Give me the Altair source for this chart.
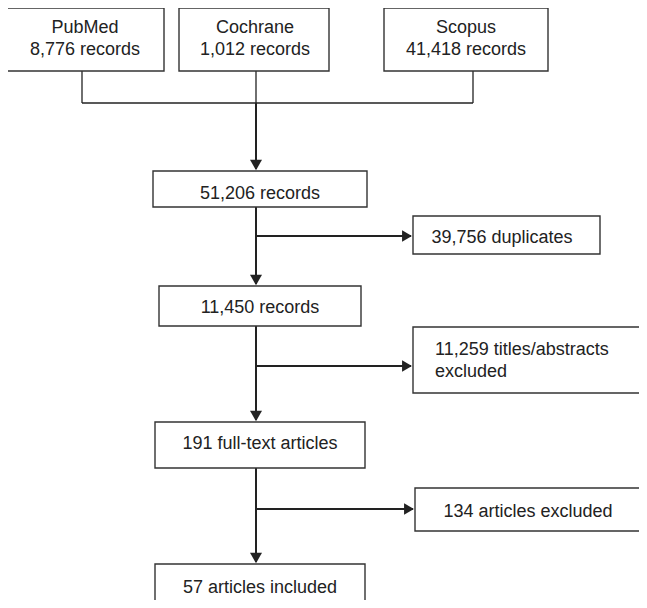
import altair as alt
import pandas as pd

# ---- content ----
sources = ["PubMed", "Cochrane", "Scopus"]
source_records = ["8,776", "1,012", "41,418"]
stage_counts = ["51,206", "11,450", "191", "57"]
stage_labels = ["records", "records", "full-text articles", "articles included"]
excluded_counts = ["39,756", "11,259", "134"]
excluded_labels = ["duplicates", "titles/abstracts\nexcluded", "articles excluded"]

# ---- layout (pixel positions of the flow diagram) ----
src_box_x = [(6, 164), (179, 329), (384, 548)]
src_box_y = (8, 71)
src_join_x = [82, 256, 473]
src_text = [(85, 28), (255, 28), (466, 28)]
stage_box = [(153, 367, 171, 207), (159, 361, 286, 326), (155, 365, 422, 468), (155, 365, 564, 660)]
stage_text = [(260, 194), (260, 308), (260, 444), (260, 588)]
excl_box = [(413, 600, 216, 254), (413, 700, 327, 393), (415, 700, 488, 531)]
excl_text = [(502, 238, "center"), (435, 350, "left"), (528, 512, "center")]
trunk_x = 256
join_y = 103
branch_y = [236, 366, 509]

W, H = 631, 592
X = dict(scale=alt.Scale(domain=[8, 8 + W], nice=False, zero=False), axis=None)
Y = dict(scale=alt.Scale(domain=[8, 8 + H], nice=False, zero=False, reverse=True), axis=None)

boxes = []
for (x0, x1) in src_box_x:
    boxes.append(dict(x=x0, x2=x1, y=src_box_y[0], y2=src_box_y[1]))
for (x0, x1, y0, y1) in stage_box + excl_box:
    boxes.append(dict(x=x0, x2=x1, y=y0, y2=y1))
boxes = pd.DataFrame(boxes)

texts = []
for name, n, (tx, ty) in zip(sources, source_records, src_text):
    texts.append(dict(x=tx, y=ty, t=f"{name}\n{n} records", a="center"))
for n, lab, (tx, ty) in zip(stage_counts, stage_labels, stage_text):
    texts.append(dict(x=tx, y=ty, t=f"{n} {lab}", a="center"))
for n, lab, (tx, ty, al) in zip(excluded_counts, excluded_labels, excl_text):
    texts.append(dict(x=tx, y=ty, t=f"{n} {lab}", a=al))
texts = pd.DataFrame(texts)

# thin connectors from sources
thin = [dict(x=cx, x2=cx, y=src_box_y[1], y2=join_y) for cx in src_join_x]
thin.append(dict(x=src_join_x[0], x2=src_join_x[-1], y=join_y, y2=join_y))
thin = pd.DataFrame(thin)

# thick arrow lines
thick = [dict(x=trunk_x, x2=trunk_x, y=join_y, y2=stage_box[0][2] - 2)]
for i in range(3):
    thick.append(dict(x=trunk_x, x2=trunk_x, y=stage_box[i][3], y2=stage_box[i + 1][2] - 2))
for by, eb in zip(branch_y, excl_box):
    thick.append(dict(x=trunk_x, x2=eb[0] - 2, y=by, y2=by))
thick = pd.DataFrame(thick)

down_heads = pd.DataFrame([dict(x=trunk_x, y=sb[2] - 6) for sb in stage_box])
right_heads = pd.DataFrame([dict(x=eb[0] - 6, y=by) for by, eb in zip(branch_y, excl_box)])

line_color = "#222222"

rects = alt.Chart(boxes).mark_rect(fill="white", stroke="#333333", strokeWidth=1.4, clip=True).encode(
    x=alt.X("x:Q", **X), x2="x2:Q", y=alt.Y("y:Q", **Y), y2="y2:Q")

thin_rules = alt.Chart(thin).mark_rule(color=line_color, strokeWidth=1.3).encode(
    x=alt.X("x:Q", **X), x2="x2:Q", y=alt.Y("y:Q", **Y), y2="y2:Q")

thick_rules = alt.Chart(thick).mark_rule(color=line_color, strokeWidth=2).encode(
    x=alt.X("x:Q", **X), x2="x2:Q", y=alt.Y("y:Q", **Y), y2="y2:Q")

dh = alt.Chart(down_heads).mark_point(shape="triangle-down", size=144, filled=True, color=line_color, opacity=1).encode(
    x=alt.X("x:Q", **X), y=alt.Y("y:Q", **Y))
rh = alt.Chart(right_heads).mark_point(shape="triangle-right", size=130, filled=True, color=line_color, opacity=1).encode(
    x=alt.X("x:Q", **X), y=alt.Y("y:Q", **Y))

def text_layer(align):
    return alt.Chart(texts[texts.a == align]).mark_text(
        font="Liberation Sans", fontSize=18, color="#222222", align=align, baseline="middle",
        lineBreak="\n", lineHeight=21.5).encode(
        x=alt.X("x:Q", **X), y=alt.Y("y:Q", **Y), text="t:N")

chart = alt.layer(thin_rules, thick_rules, rects, dh, rh, text_layer("center"), text_layer("left")).properties(
    width=W, height=H, padding=0, background="white"
).configure_view(stroke=None)

chart.save("out.html", embed_options={"renderer": "svg", "actions": False})
